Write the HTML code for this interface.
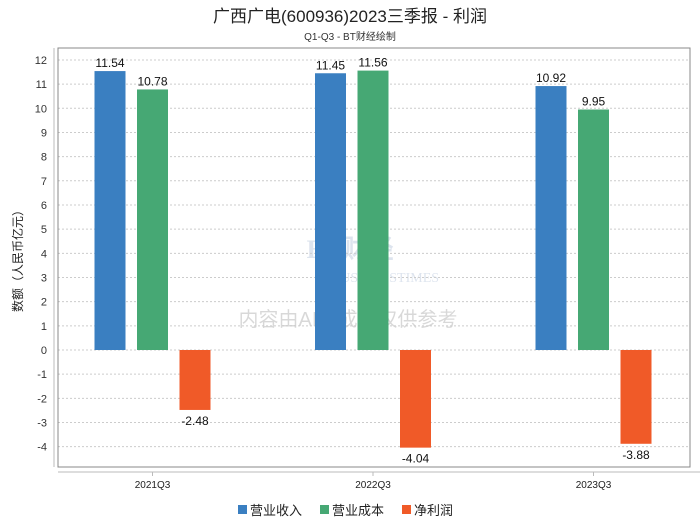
<!DOCTYPE html>
<html><head><meta charset="utf-8"><style>
body{margin:0;background:#fff;width:700px;height:524px;overflow:hidden;font-family:"Liberation Sans","Noto Sans CJK SC",sans-serif}
</style></head><body>
<svg id="c" width="700" height="524" xmlns="http://www.w3.org/2000/svg">
<text x="350" y="22" text-anchor="middle" font-size="17" fill="#222">广西广电(600936)2023三季报 - 利润</text>
<text x="350" y="40" text-anchor="middle" font-size="10" fill="#333">Q1-Q3 - BT财经绘制</text>
<g opacity="0.18">
<text x="350" y="258" text-anchor="middle" font-size="26" font-family="Liberation Serif,serif" fill="#4a6fa5" font-weight="bold">BT财经</text>
<text x="385" y="282" text-anchor="middle" font-size="14" font-family="Liberation Serif,serif" fill="#4a6fa5">BUSINESSTIMES</text>
</g>
<text x="348" y="326" text-anchor="middle" font-size="20" fill="#000" opacity="0.15">内容由AI生成，仅供参考</text>
<g id="grid"></g>
<rect x="58" y="48" width="632" height="419" fill="none" stroke="#888" stroke-width="1"/>
<line x1="54" y1="48" x2="54" y2="467" stroke="#bbb"/>
<line x1="58" y1="472" x2="700" y2="472" stroke="#bbb"/>
<g id="bars"></g>
<text transform="translate(22,258) rotate(-90)" text-anchor="middle" font-size="12" fill="#222">数额（人民币亿元）</text>
<g font-size="13" fill="#222">
<rect x="238" y="505" width="9" height="9" fill="#3a7fc1"/>
<text x="250" y="515">营业收入</text>
<rect x="320" y="505" width="9" height="9" fill="#46a874"/>
<text x="332" y="515">营业成本</text>
<rect x="402" y="505" width="9" height="9" fill="#f05a28"/>
<text x="414" y="515">净利润</text>
</g>
</svg>
<script>
const categories=["2021Q3","2022Q3","2023Q3"];
const revenue=[11.54,11.45,10.92];
const cost=[10.78,11.56,9.95];
const netProfit=[-2.48,-4.04,-3.88];
const yTicks=[12,11,10,9,8,7,6,5,4,3,2,1,0,-1,-2,-3,-4];
const NS="http://www.w3.org/2000/svg";
const y=v=>350-v*24.17;
const x=i=>152.5+i*220.5;
const grid=document.getElementById('grid'),bars=document.getElementById('bars');
function mk(tag,a,p){const e=document.createElementNS(NS,tag);for(const k in a)e.setAttribute(k,a[k]);p.appendChild(e);return e;}
yTicks.forEach(t=>{
 const l=mk('line',{x1:58,x2:690,y1:y(t),y2:y(t),stroke:'#ccc','stroke-dasharray':'2,2'},grid);
 
 
 const tx=mk('text',{x:47,y:y(t)+4,'text-anchor':'end','font-size':11,fill:'#333'},grid);
 tx.textContent=t;
 
 
});
categories.forEach((c,i)=>{
 const tk=mk('line',{x1:x(i),x2:x(i),y1:472,y2:476,stroke:'#bbb'},grid);
 
 
 const t=mk('text',{x:x(i),y:488,'text-anchor':'middle','font-size':10,fill:'#222'},grid);
 t.textContent=c;
 
 
 [[revenue,'#3a7fc1',-42.5,'revenue'],[cost,'#46a874',0,'cost'],[netProfit,'#f05a28',42.5,'net-profit']].forEach(([s,col,off,nm])=>{
  const v=s[i],cx=x(i)+off,y0=y(0),y1=y(v);
  const r=mk('rect',{x:cx-15.5,width:31,y:Math.min(y0,y1),height:Math.abs(y1-y0),fill:col},bars);
  
  
  const lb=mk('text',{x:cx,y:v>=0?y1-4:y1+15,'text-anchor':'middle','font-size':12,fill:'#111'},bars);
  lb.textContent=v.toFixed(2);
  
  
 });
});
</script>
</body></html>
